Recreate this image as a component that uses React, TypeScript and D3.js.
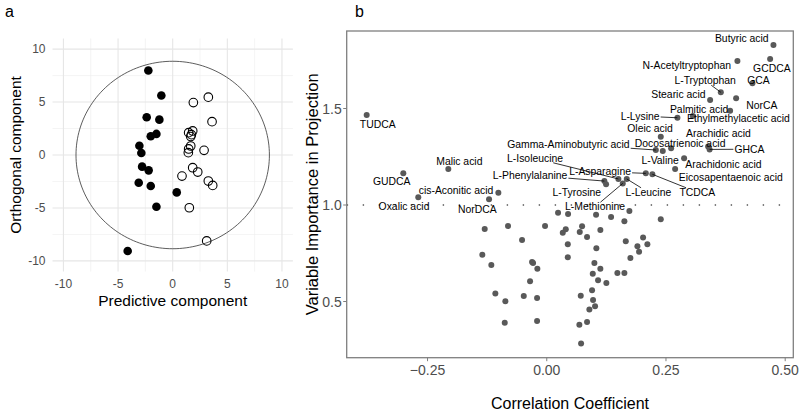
import * as d3 from 'd3';
import {useEffect, useRef} from 'react';

const W = 800;
const H = 411;
const FONT = '"Liberation Sans", Arial, Helvetica, sans-serif';

// ---- panel a: score plot ----
const controlX = [-2.23, -1.04, -2.38, -1.22, -2.01, -1.49, -3.05, -2.87, -2.80, -2.20, -3.11, -2.01, 0.37, -1.49, -4.12];
const controlY = [7.98, 5.62, 3.56, 3.34, 1.77, 1.99, 0.88, 0.19, -1.10, -1.45, -2.62, -2.93, -3.53, -4.89, -9.06];
const caseX = [1.89, 3.26, 3.60, 1.46, 1.83, 1.71, 1.65, 1.65, 1.46, 1.43, 2.87, 1.83, 2.29, 0.85, 3.26, 3.66, 1.52, 3.11];
const caseY = [4.95, 5.46, 3.15, 2.11, 2.27, 1.92, 1.74, 0.85, 0.57, 0.22, 0.44, -1.20, -1.61, -1.99, -2.46, -2.87, -4.98, -8.11];
const scoreMajor = [-10, -5, 0, 5, 10];
const scoreMinor = [-7.5, -2.5, 2.5, 7.5];
const ellipseR = 8.85;

// ---- panel b: VIP vs correlation ----
const labelled = [
  'Butyric acid', 'GCDCA', 'N-Acetyltryptophan', 'GCA', 'L-Tryptophan', 'Stearic acid', 'NorCA',
  'Palmitic acid', 'L-Lysine', 'Ethylmethylacetic acid', 'TUDCA', 'Oleic acid', 'Arachidic acid', 'GHCA',
  'Docosatrienoic acid', 'Gamma-Aminobutyric acid', 'L-Valine', 'Arachidonic acid', 'Eicosapentaenoic acid',
  'Malic acid', 'GUDCA', 'cis-Aconitic acid', 'Oxalic acid', 'NorDCA', 'L-Isoleucine', 'L-Phenylalanine',
  'L-Tyrosine', 'L-Asparagine', 'TCDCA', 'L-Leucine', 'L-Methionine',
];
const labelledCorr = [
  0.4754, 0.4684, 0.3998, 0.4313, 0.3650, 0.3426, 0.3971, 0.3845, 0.2740, 0.3063, -0.3776, 0.2391, 0.3384, 0.3415,
  0.2433, 0.2287, 0.2608, 0.2880, 0.2692, -0.2064, -0.3008, -0.1015, -0.2694, -0.1210, 0.1502, 0.1208,
  0.1244, 0.2077, 0.2215, 0.1678, 0.1594,
];
const labelledVip = [
  1.829, 1.756, 1.746, 1.631, 1.584, 1.544, 1.553, 1.489, 1.452, 1.461, 1.466, 1.354, 1.303, 1.288,
  1.280, 1.285, 1.294, 1.242, 1.187, 1.187, 1.164, 1.064, 1.040, 1.030, 1.135, 1.124,
  1.107, 1.164, 1.159, 1.135, 1.112,
];
// where the repelled labels sit (data units)
const labelCorr = [
  0.409, 0.472, 0.2937, 0.4439, 0.3321, 0.2761, 0.451, 0.3195, 0.1957, 0.4019, -0.3545, 0.2167, 0.36, 0.425,
  0.2796, 0.0453, 0.2377, 0.3705, 0.386, -0.1833, -0.3252, -0.1903, -0.2993, -0.1456, -0.0245, -0.035,
  0.0629, 0.1118, 0.3159, 0.2131, 0.1013,
];
const labelVip = [
  1.864, 1.708, 1.722, 1.644, 1.644, 1.570, 1.513, 1.497, 1.461, 1.446, 1.418, 1.397, 1.369, 1.289,
  1.318, 1.316, 1.233, 1.212, 1.141, 1.224, 1.121, 1.074, 0.991, 0.978, 1.242, 1.155,
  1.066, 1.173, 1.066, 1.066, 0.991,
];
const withSegment = ['L-Tryptophan', 'L-Lysine', 'GHCA', 'Gamma-Aminobutyric acid', 'L-Isoleucine',
  'L-Phenylalanine', 'L-Asparagine', 'TCDCA', 'L-Leucine', 'L-Methionine'];

const otherCorr = [
  0.0237, 0.0447, 0.1034, 0.1349, 0.1733, 0.1628, 0.2391, -0.1301, -0.0812, -0.0036, 0.0336, 0.0399, 0.0692,
  0.0741, 0.0845, 0.1124, -0.0518, 0.0441, 0.1657, 0.2020, 0.1901, 0.2110, 0.1936, 0.1040, -0.1351, -0.1162,
  -0.0308, -0.0287, -0.0197, 0.0441, 0.0999, 0.1124, 0.0965, 0.1481, 0.1628, 0.1754, -0.0350, 0.1076, 0.1250,
  -0.1078, -0.0868, -0.0482, -0.0203, 0.0713, 0.0950, 0.0971, 0.1013, 0.0894, -0.0881, -0.0203, 0.0684, 0.0845,
  0.0720,
];
const otherVip = [
  0.960, 0.953, 0.950, 0.938, 0.969, 0.916, 0.926, 0.876, 0.891, 0.891, 0.856, 0.874, 0.860,
  0.890, 0.834, 0.870, 0.819, 0.796, 0.812, 0.831, 0.786, 0.796, 0.758, 0.776, 0.742, 0.689,
  0.705, 0.699, 0.670, 0.729, 0.699, 0.670, 0.644, 0.648, 0.648, 0.725, 0.605, 0.610, 0.596,
  0.542, 0.501, 0.528, 0.518, 0.530, 0.558, 0.508, 0.475, 0.458, 0.390, 0.399, 0.380, 0.394,
  0.283,
];
const corrTicks = [-0.25, 0, 0.25, 0.5];
const vipTicks = [0.5, 1.0, 1.5];
const vipCutoff = 1.0;

function drawScores(svg) {
  const x = d3.scaleLinear().domain([-11, 11]).range([52.5, 292.9]);
  const y = d3.scaleLinear().domain([-11, 11]).range([271.5, 38.5]);
  const g = svg.append('g');

  // grid (minor then major)
  [[scoreMinor, 0.6, '#ededed'], [scoreMajor, 1.1, '#e6e6e6']].forEach(([ticks, w, c]) => {
    (ticks as number[]).forEach(t => {
      g.append('line').attr('x1', x(t)).attr('x2', x(t)).attr('y1', y(-11)).attr('y2', y(11))
        .attr('stroke', c).attr('stroke-width', w);
      g.append('line').attr('y1', y(t)).attr('y2', y(t)).attr('x1', x(-11)).attr('x2', x(11))
        .attr('stroke', c).attr('stroke-width', w);
    });
  });

  // confidence ellipse
  const ring = d3.range(0, 361, 2).map(a => [ellipseR * Math.cos(a * Math.PI / 180), ellipseR * Math.sin(a * Math.PI / 180)]);
  g.append('path')
    .attr('d', d3.line().x(d => x(d[0])).y(d => y(d[1]))(ring))
    .attr('fill', 'none').attr('stroke', '#333').attr('stroke-width', 0.8);

  g.selectAll('.ctrl').data(controlX).enter().append('circle')
    .attr('cx', d => x(d)).attr('cy', (d, i) => y(controlY[i])).attr('r', 4.3).attr('fill', '#000');
  g.selectAll('.case').data(caseX).enter().append('circle')
    .attr('cx', d => x(d)).attr('cy', (d, i) => y(caseY[i])).attr('r', 4.3)
    .attr('fill', 'none').attr('stroke', '#000').attr('stroke-width', 1.1);

  // tick labels
  scoreMajor.forEach(t => {
    g.append('text').attr('x', 45.5).attr('y', y(t)).attr('text-anchor', 'end').attr('dominant-baseline', 'central')
      .attr('font-size', 12).attr('fill', '#4d4d4d').text(t);
    g.append('text').attr('x', x(t)).attr('y', 283.5).attr('text-anchor', 'middle').attr('dominant-baseline', 'central')
      .attr('font-size', 12).attr('fill', '#4d4d4d').text(t);
  });

  g.append('text').attr('x', x(0)).attr('y', 300).attr('text-anchor', 'middle').attr('dominant-baseline', 'central')
    .attr('font-size', 15.5).text('Predictive component');
  g.append('text').attr('transform', `translate(15,${y(0)}) rotate(-90)`).attr('text-anchor', 'middle')
    .attr('dominant-baseline', 'central').attr('font-size', 15.5).text('Orthogonal component');
  g.append('text').attr('x', 5).attr('y', 17.3).attr('font-size', 16).text('a');
}

function drawVip(svg) {
  const x = d3.scaleLinear().domain([-0.4195, 0.517]).range([346.7, 793.3]);
  const y = d3.scaleLinear().domain([0.2088, 1.9016]).range([357.7, 31]);
  const g = svg.append('g');
  const [x0, x1] = x.range();
  const [y0, y1] = y.range();

  g.append('line').attr('x1', x0).attr('x2', x1).attr('y1', y(vipCutoff)).attr('y2', y(vipCutoff))
    .attr('stroke', '#555').attr('stroke-width', 1.4).attr('stroke-dasharray', '1.4 14.6');

  g.selectAll('.other').data(otherCorr).enter().append('circle')
    .attr('cx', d => x(d)).attr('cy', (d, i) => y(otherVip[i])).attr('r', 3).attr('fill', '#595959');
  g.selectAll('.lab').data(labelledCorr).enter().append('circle')
    .attr('cx', d => x(d)).attr('cy', (d, i) => y(labelledVip[i])).attr('r', 3).attr('fill', '#595959');

  const segG = g.append('g');
  const txtG = g.append('g');
  labelled.forEach((name, i) => {
    const lx = x(labelCorr[i]);
    const ly = y(labelVip[i]);
    const t = txtG.append('text').attr('x', lx).attr('y', ly).attr('text-anchor', 'middle')
      .attr('dominant-baseline', 'central').attr('font-size', 10.4).attr('fill', '#000').text(name);
    if (!withSegment.includes(name)) return;
    const bb = (t.node() as SVGTextElement).getBBox();
    const px = x(labelledCorr[i]);
    const py = y(labelledVip[i]);
    const dx = px - lx;
    const dy = py - ly;
    const hw = bb.width / 2 + 1;
    const hh = bb.height / 2 - 1;
    const s = Math.min(Math.abs(dx) > 0 ? hw / Math.abs(dx) : Infinity, Math.abs(dy) > 0 ? hh / Math.abs(dy) : Infinity);
    if (s >= 1) return;
    segG.append('line').attr('x1', lx + dx * s).attr('y1', ly + dy * s).attr('x2', px).attr('y2', py)
      .attr('stroke', '#000').attr('stroke-width', 0.8);
  });

  // frame
  g.append('rect').attr('x', x0).attr('y', y1).attr('width', x1 - x0).attr('height', y0 - y1)
    .attr('fill', 'none').attr('stroke', '#7f7f7f').attr('stroke-width', 1.3);

  vipTicks.forEach(t => {
    g.append('line').attr('x1', x0 - 3.5).attr('x2', x0).attr('y1', y(t)).attr('y2', y(t))
      .attr('stroke', '#7f7f7f').attr('stroke-width', 1);
    g.append('text').attr('x', x0 - 5).attr('y', y(t)).attr('text-anchor', 'end').attr('dominant-baseline', 'central')
      .attr('font-size', 14).attr('fill', '#4d4d4d').text(d3.format('.1f')(t));
  });
  corrTicks.forEach(t => {
    g.append('line').attr('x1', x(t)).attr('x2', x(t)).attr('y1', y0).attr('y2', y0 + 3.5)
      .attr('stroke', '#7f7f7f').attr('stroke-width', 1);
    g.append('text').attr('x', x(t)).attr('y', 369.5).attr('text-anchor', 'middle').attr('dominant-baseline', 'central')
      .attr('font-size', 14).attr('fill', '#4d4d4d').text(d3.format('.2f')(t));
  });

  g.append('text').attr('x', (x0 + x1) / 2).attr('y', 403).attr('text-anchor', 'middle').attr('dominant-baseline', 'central')
    .attr('font-size', 16).text('Correlation Coefficient');
  g.append('text').attr('transform', `translate(311.7,${(y0 + y1) / 2}) rotate(-90)`).attr('text-anchor', 'middle')
    .attr('dominant-baseline', 'central').attr('font-size', 16.5).text('Variable Importance in Projection');
  g.append('text').attr('x', 355).attr('y', 17.3).attr('font-size', 16).text('b');
}

export default function App() {
  const svgRef = useRef<SVGSVGElement>(null);

  useEffect(() => {
    const svg = d3.select(svgRef.current).attr('font-family', FONT);
    svg.selectAll('*').remove();
    drawScores(svg);
    drawVip(svg);
  }, []);

  return (
    <svg ref={svgRef} width={W} height={H}
      style={{position: 'absolute', left: 0, top: 0, background: '#fff'}} />
  );
}
